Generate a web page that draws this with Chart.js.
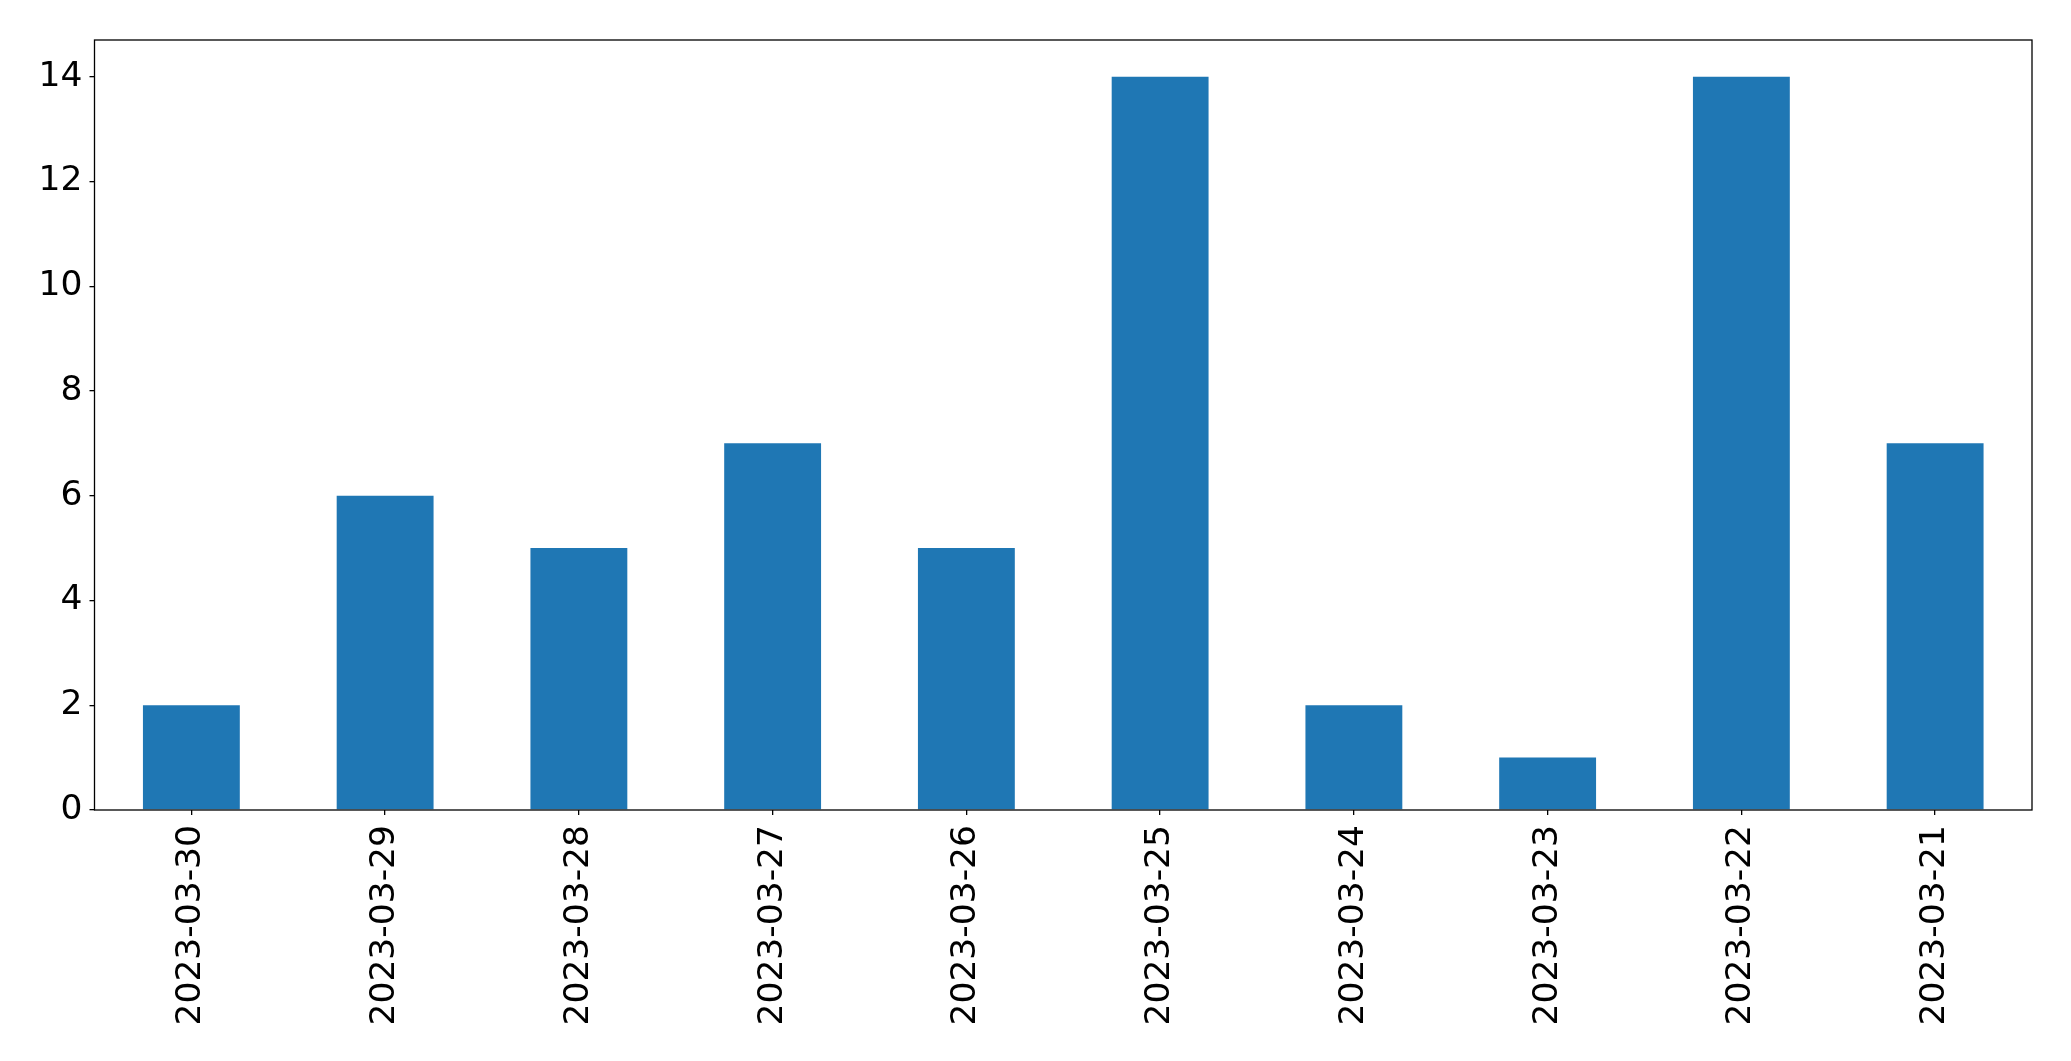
<!DOCTYPE html>
<html>
<head>
<meta charset="utf-8">
<script src="https://cdn.jsdelivr.net/npm/chart.js@4/dist/chart.umd.min.js"></script>
<style>
  html, body { margin: 0; padding: 0; background: #fff; }
  #wrap { width: 2071px; height: 1061px; }
</style>
</head>
<body>
<div id="wrap"><canvas id="myChart" width="2071" height="1061"></canvas></div>
<script>
// veriler
const dates = ['2023-03-30', '2023-03-29', '2023-03-28', '2023-03-27', '2023-03-26',
               '2023-03-25', '2023-03-24', '2023-03-23', '2023-03-22', '2023-03-21'];
const counts = [2, 6, 5, 7, 5, 14, 2, 1, 14, 7];
const yTicks = [0, 2, 4, 6, 8, 10, 12, 14];
const yMax = 14.7; // matplotlib 5% margin

const tickFont = { family: 'DejaVu Sans', size: 34.5 };

// kutu cercevesi (ust ve sag kenar dahil)
const frame = {
    id: 'frame',
    afterDraw(chart) {
        const { ctx, chartArea: a } = chart;
        ctx.save();
        ctx.strokeStyle = '#000';
        ctx.lineWidth = 1.3;
        ctx.strokeRect(a.left, a.top, a.right - a.left, a.bottom - a.top);
        ctx.restore();
    }
};

new Chart(document.getElementById('myChart'), {
    type: 'bar',
    data: {
        labels: dates,
        datasets: [{
            data: counts,
            backgroundColor: '#1f77b4',
            borderWidth: 0,
            barPercentage: 0.5,
            categoryPercentage: 1.0
        }]
    },
    options: {
        responsive: false,
        animation: false,
        devicePixelRatio: 1,
        layout: { padding: { left: 36, right: 39, top: 40, bottom: 10 } },
        plugins: { legend: { display: false }, tooltip: { enabled: false } },
        scales: {
            x: {
                offset: true,
                grid: { display: true, offset: false, drawOnChartArea: false, color: '#000', tickLength: 5, lineWidth: 1.3 },
                border: { display: false },
                ticks: {
                    color: '#000', font: tickFont, padding: 10,
                    minRotation: 90, maxRotation: 90, autoSkip: false
                },
                afterFit(scale) { scale.height = 241; }
            },
            y: {
                min: 0,
                max: yMax,
                grid: { display: true, drawOnChartArea: false, color: '#000', tickLength: 5, lineWidth: 1.3 },
                border: { display: false },
                ticks: { color: '#000', font: tickFont, padding: 7 },
                afterBuildTicks(scale) { scale.ticks = yTicks.map(v => ({ value: v })); },
                afterFit(scale) { scale.width = 58.5; }
            }
        }
    },
    plugins: [frame]
});
</script>
</body>
</html>
